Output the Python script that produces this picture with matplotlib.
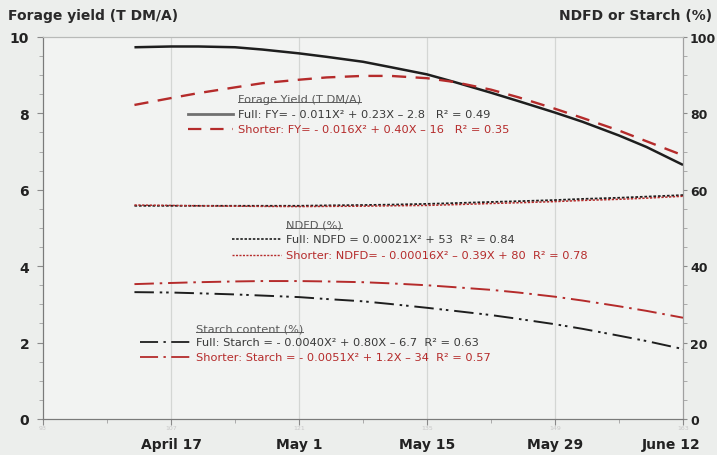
import matplotlib
matplotlib.use("Agg")
import matplotlib.pyplot as plt
import matplotlib.transforms as mtransforms
from matplotlib.lines import Line2D

# ---- data (day of year) ----
days = [103, 107, 110, 114, 117, 121, 124, 128, 131, 135, 138, 142, 145, 149, 152, 156, 159, 163]
fy_full = [9.73, 9.75, 9.75, 9.73, 9.67, 9.57, 9.48, 9.35, 9.21, 9.02, 8.82, 8.54, 8.32, 8.02, 7.78, 7.42, 7.12, 6.65]
fy_short = [8.22, 8.40, 8.53, 8.68, 8.79, 8.88, 8.94, 8.98, 8.98, 8.92, 8.82, 8.62, 8.42, 8.12, 7.88, 7.55, 7.27, 6.90]
ndfd_full = [55.8, 55.8, 55.8, 55.8, 55.8, 55.8, 55.9, 56.0, 56.1, 56.3, 56.5, 56.8, 57.0, 57.3, 57.6, 57.9, 58.2, 58.6]
ndfd_short = [56.0, 55.9, 55.8, 55.7, 55.65, 55.6, 55.65, 55.7, 55.8, 55.9, 56.1, 56.4, 56.6, 56.9, 57.2, 57.5, 57.8, 58.3]
starch_full = [33.2, 33.1, 32.9, 32.6, 32.3, 31.9, 31.4, 30.8, 30.1, 29.1, 28.3, 27.2, 26.2, 24.8, 23.6, 21.8, 20.4, 18.3]
starch_short = [35.3, 35.6, 35.8, 36.0, 36.1, 36.1, 36.0, 35.8, 35.5, 35.0, 34.5, 33.8, 33.1, 32.0, 31.0, 29.5, 28.3, 26.5]

tick_days = [93, 107, 121, 135, 149, 163]
tick_labels = ["", "April 17", "May 1", "May 15", "May 29", "June 12"]

BG = "#eceeec"
RED = "#b52b2b"
DARK = "#1e1e1e"

fig = plt.figure(figsize=(7.17, 4.56), dpi=100, facecolor=BG)
ax = fig.add_axes([0.060, 0.079, 0.8926, 0.8378])
ax.set_facecolor("#f2f3f2")
ax2 = ax.twinx()

ax.set_xlim(93, 163)
ax.set_ylim(0, 10)
ax2.set_ylim(0, 100)

# grid
for d in tick_days[1:-1]:
    ax.axvline(d, color="#d4d6d4", lw=0.9, zorder=0)

# curves
ax.plot(days, fy_full, color=DARK, lw=1.8, solid_capstyle="butt", zorder=3)
ax.plot(days, fy_short, color=RED, lw=1.7, dashes=(6, 4), zorder=3)
ax2.plot(days, ndfd_full, color=DARK, lw=1.3, dashes=(1.5, 1.0), zorder=3)
ax2.plot(days, ndfd_short, color=RED, lw=1.1, dashes=(1.5, 1.0), zorder=3)
ax2.plot(days, starch_full, color=DARK, lw=1.4, dashes=(10, 3, 1.3, 2, 1.3, 3), zorder=3)
ax2.plot(days, starch_short, color=RED, lw=1.4, dashes=(10, 3, 1.3, 3), zorder=3)

# axes styling
ax.set_xticks(tick_days)
ax.set_xticklabels(tick_labels, fontsize=10, fontweight="bold", color="#222222")
ax.set_xticks([100, 114, 128, 142, 156], minor=True)
ax.set_yticks([0, 2, 4, 6, 8, 10])
ax.set_yticks([i * 0.5 for i in range(21)], minor=True)
ax2.set_yticks([0, 20, 40, 60, 80, 100])
ax2.set_yticks(list(range(0, 101, 5)), minor=True)
ax.tick_params(axis="y", which="major", labelsize=10, length=4, width=0.8,
               color="#8a8a8a", labelcolor="#222222", pad=6)
ax2.tick_params(axis="y", which="major", labelsize=9, length=3, width=0.8,
                color="#8a8a8a", labelcolor="#222222", pad=2)
for a in (ax, ax2):
    a.tick_params(axis="y", which="minor", length=3, width=0.6, color="#a0a0a0")
ax.tick_params(axis="x", which="major", length=4, width=0.8, color="#8a8a8a", pad=9)
ax.tick_params(axis="x", which="minor", length=3, width=0.6, color="#a0a0a0")
for lab in ax.get_yticklabels() + ax2.get_yticklabels():
    lab.set_fontweight("bold")

# shift last date label left to stay inside the figure
last = ax.get_xticklabels()[-1]
last.set_transform(last.get_transform() +
                   mtransforms.ScaledTranslation(-12 / 100, 0, fig.dpi_scale_trans))

for a in (ax, ax2):
    a.spines["left"].set_color("#7a7a7a")
    a.spines["bottom"].set_color("#7a7a7a")
    a.spines["right"].set_color("#a0a0a0")
    a.spines["top"].set_color("#b8bab8")

# faint day-of-year labels
for d in tick_days:
    ax.text(d, -0.17, str(d), transform=ax.transData,
            ha="center", va="top", fontsize=4.5, color="#c8c8c8")

# axis titles
fig.text(0.011, 0.965, "Forage yield (T DM/A)", fontsize=10, fontweight="bold",
         color="#2a2a2a", ha="left", va="center")
fig.text(0.993, 0.965, "NDFD or Starch (%)", fontsize=10, fontweight="bold",
         color="#2a2a2a", ha="right", va="center")

# in-plot legends
FS = 8.2
TXT = "#3a3a3a"
GRAY = "#5a5a5a"
titles = []

def block(x_txt, y_title, y1, y2, title, t1, t2, xs0, xs1, style_full, style_short):
    t = ax.text(x_txt, y_title, title, transform=ax.transAxes, fontsize=FS, color=GRAY,
                ha="left", va="center")
    titles.append(t)
    ax.text(x_txt, y1, t1, transform=ax.transAxes, fontsize=FS, color=TXT, ha="left", va="center")
    ax.text(x_txt, y2, t2, transform=ax.transAxes, fontsize=FS, color=RED, ha="left", va="center")
    ax.add_line(Line2D([xs0, xs1], [y1, y1], transform=ax.transAxes, **style_full))
    ax.add_line(Line2D([xs0, xs1], [y2, y2], transform=ax.transAxes, **style_short))

block(0.305, 0.838, 0.798, 0.759, "Forage Yield (T DM/A)",
      "Full: FY= - 0.011X\u00b2 + 0.23X \u2013 2.8   R\u00b2 = 0.49",
      "Shorter: FY= - 0.016X\u00b2 + 0.40X \u2013 16   R\u00b2 = 0.35",
      0.227, 0.297,
      dict(color="#707070", lw=2.0),
      dict(color=RED, lw=1.6, dashes=(6, 4)))
block(0.380, 0.510, 0.471, 0.429, "NDFD (%)",
      "Full: NDFD = 0.00021X\u00b2 + 53  R\u00b2 = 0.84",
      "Shorter: NDFD= - 0.00016X\u00b2 \u2013 0.39X + 80  R\u00b2 = 0.78",
      0.295, 0.372,
      dict(color=DARK, lw=1.2, dashes=(1.5, 1.0)),
      dict(color=RED, lw=1.0, dashes=(1.5, 1.0)))
block(0.239, 0.238, 0.202, 0.162, "Starch content (%)",
      "Full: Starch = - 0.0040X\u00b2 + 0.80X \u2013 6.7  R\u00b2 = 0.63",
      "Shorter: Starch = - 0.0051X\u00b2 + 1.2X \u2013 34  R\u00b2 = 0.57",
      0.152, 0.232,
      dict(color=DARK, lw=1.3, dashes=(10, 3, 1.3, 3)),
      dict(color=RED, lw=1.3, dashes=(10, 3, 1.3, 3)))

# underline titles
fig.canvas.draw()
r = fig.canvas.get_renderer()
inv = fig.transFigure.inverted()
for t in titles:
    bb = t.get_window_extent(renderer=r)
    (x0, y0), (x1, _) = inv.transform([(bb.x0, bb.y0 + 1.5), (bb.x1, bb.y0)])
    fig.add_artist(Line2D([x0, x1], [y0, y0], transform=fig.transFigure, color=GRAY, lw=0.7))

fig.savefig("out.png", dpi=100, facecolor=BG)
